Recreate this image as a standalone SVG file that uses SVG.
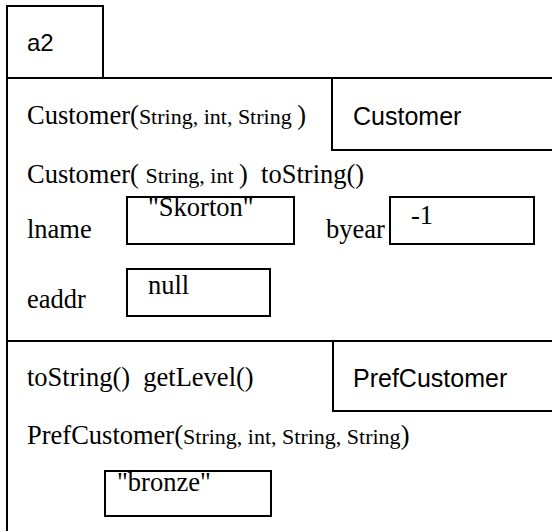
<svg xmlns="http://www.w3.org/2000/svg" width="552" height="531" viewBox="0 0 552 531">
<style>
.ln{stroke:#000;stroke-width:2;fill:none}
.bx{stroke:#000;stroke-width:2;fill:#fff}
.t{font-family:"Liberation Serif","Times New Roman",serif;font-size:26.5px;fill:#000;white-space:pre}
.s{font-size:22px}
.sans{font-family:"Liberation Sans",Arial,sans-serif;font-size:25px;fill:#000}
</style>
<rect width="552" height="531" fill="#fff"/>
<g id="frame">
<line class="ln" x1="7" y1="6" x2="7" y2="531"/>
<line class="ln" x1="6" y1="78" x2="552" y2="78"/>
<line class="ln" x1="6" y1="341" x2="552" y2="341"/>
</g>
<g id="a2">
<rect class="bx" x="7" y="6" width="96" height="72"/>
<text class="sans" x="27" y="51" style="font-size:24px">a2</text>
</g>
<g id="customer-tag">
<path class="ln" d="M552 150 H332 V78"/>
<text class="sans" x="353" y="125">Customer</text>
</g>
<g id="customer-methods">
<text class="t" x="27" y="124">Customer(<tspan class="s">String, int, String </tspan>)</text>
<text class="t" x="27" y="183">Customer( <tspan class="s">String, int </tspan>)  toString()</text>
</g>
<g id="lname">
<text class="t" x="27" y="238">lname</text>
<rect class="bx" x="127" y="197" width="167" height="47"/>
<text class="t" x="148" y="216">"Skorton"</text>
</g>
<g id="byear">
<text class="t" x="326" y="238">byear</text>
<rect class="bx" x="390" y="197" width="144" height="47"/>
<text class="t" x="411" y="224">-1</text>
</g>
<g id="eaddr">
<text class="t" x="27" y="308">eaddr</text>
<rect class="bx" x="127" y="269" width="143" height="47"/>
<text class="t" x="148" y="294">null</text>
</g>
<g id="prefcustomer-tag">
<path class="ln" d="M552 411 H333 V341"/>
<text class="sans" x="353" y="387">PrefCustomer</text>
</g>
<g id="prefcustomer-methods">
<text class="t" x="27" y="386">toString()  getLevel()</text>
<text class="t" x="27" y="444">PrefCustomer(<tspan class="s">String, int, String, String</tspan>)</text>
</g>
<g id="level">
<rect class="bx" x="105" y="471" width="166" height="45"/>
<text class="t" x="117" y="491">"bronze"</text>
</g>
</svg>
